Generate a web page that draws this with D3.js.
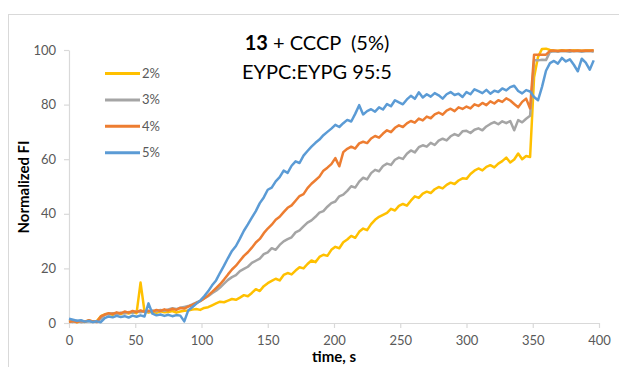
<!DOCTYPE html>
<html>
<head>
<meta charset="utf-8">
<script src="https://cdn.jsdelivr.net/npm/d3@7"></script>
<style>
  body { margin: 0; background: #fff; }
  #chart { width: 619px; height: 367px; }
  text { font-family: Lato, "Open Sans", sans-serif; }
</style>
</head>
<body>
<div id="chart"></div>
<script>
// sampling grid of the traces, seconds
const times = d3.range(0, 397, 3);

const seriesNames = ["2%", "3%", "4%", "5%"];
const xTicks = [0, 50, 100, 150, 200, 250, 300, 350, 400];
const yTicks = [0, 20, 40, 60, 80, 100];

const pct2 = [
  0.5,0.8,0.3,0.6,0.4,0.9,0.5,0.7,2.5,3.2,
  3.4,3.0,3.6,3.3,3.8,3.5,4.0,3.6,14.8,4.2,
  3.8,4.1,3.7,4.3,3.9,4.0,4.4,3.8,4.2,4.5,
  4.6,4.9,5.1,4.8,5.5,5.8,6.5,7.2,7.8,7.6,
  8.2,8.8,8.5,9.3,10.2,9.8,11.0,12.4,11.7,13.5,
  14.6,15.4,16.2,15.6,17.6,18.3,17.8,19.2,20.4,20.0,
  21.6,22.9,22.3,24.2,25.0,24.6,26.8,27.9,27.4,29.6,
  30.6,31.9,31.2,33.4,34.6,34.0,36.2,37.8,38.9,39.6,
  40.3,41.8,41.2,42.9,43.6,43.0,44.8,46.4,45.8,47.4,
  48.1,47.6,49.0,49.8,49.3,50.6,51.4,50.9,52.2,53.0,
  52.8,54.6,55.8,56.6,55.9,57.2,57.8,57.0,58.4,59.3,
  60.6,58.8,59.9,62.1,60.0,61.2,60.8,90.0,97.5,100.4,
  100.5,100.0,99.8,99.7,99.9,99.8,99.7,99.9,99.8,99.7,
  99.8,99.9,99.7
];

const pct3 = [
  0.6,0.4,0.8,0.3,0.5,0.7,0.4,0.6,1.5,3.0,
  3.3,3.6,3.2,3.8,3.5,4.0,3.7,4.2,3.9,4.4,
  4.1,4.6,4.3,4.8,4.5,5.0,5.4,5.1,5.6,5.9,
  6.2,6.8,7.5,8.1,9.0,9.8,10.9,11.8,13.0,14.4,
  15.8,16.8,17.5,19.0,19.8,20.6,22.0,22.8,23.6,25.2,
  25.9,27.4,26.8,28.6,29.9,30.7,31.4,33.2,33.9,35.4,
  36.8,37.6,38.9,40.4,41.0,42.6,43.9,44.5,46.4,47.0,
  48.4,50.1,49.6,51.8,53.2,52.6,54.9,56.1,55.6,57.5,
  58.4,57.9,59.8,60.6,60.1,62.0,63.2,62.5,64.4,65.1,
  64.6,66.0,65.2,66.8,67.5,66.9,68.4,69.2,68.6,70.2,
  70.4,69.6,70.8,71.3,70.6,72.0,72.9,73.6,72.8,73.9,
  73.2,74.0,70.6,74.3,73.5,74.8,75.9,96.3,96.2,96.4,
  96.3,99.3,99.5,99.4,99.6,99.5,99.4,99.6,99.5,99.4,
  99.5,99.6,99.4
];

const pct4 = [
  0.4,0.7,0.3,0.8,0.5,1.0,0.6,0.4,2.4,3.1,
  3.6,3.3,3.9,3.5,4.2,3.8,4.4,4.0,4.6,4.1,
  4.5,4.2,4.8,4.4,5.0,4.6,5.2,4.8,5.5,5.3,
  6.0,6.6,7.3,8.0,9.0,10.1,11.4,12.8,14.2,15.9,
  17.8,19.6,21.0,22.8,24.6,25.9,27.6,29.5,30.8,32.9,
  34.6,36.0,37.8,38.9,40.6,42.2,43.1,44.8,46.5,47.2,
  49.4,51.0,52.3,53.6,55.8,56.9,58.2,60.4,57.4,62.6,
  63.8,64.6,63.9,65.8,66.4,65.9,67.6,68.5,67.9,69.4,
  70.6,69.9,71.5,72.4,71.8,73.1,74.0,73.4,74.9,74.2,
  75.6,75.0,76.4,77.1,76.3,77.8,78.5,77.6,79.0,78.4,
  79.3,78.6,80.1,79.5,80.6,79.8,81.2,80.4,81.6,81.0,
  82.3,81.5,80.2,79.0,81.0,82.2,78.6,98.3,98.3,98.3,
  98.3,99.7,99.8,99.6,99.8,99.7,99.9,99.6,99.8,99.7,
  99.8,99.7,99.9
];

const pct5 = [
  1.6,1.2,0.8,1.0,0.5,0.7,0.4,0.6,0.3,1.8,
  2.4,2.1,2.6,2.2,2.5,2.0,2.7,2.3,2.8,2.4,
  7.2,3.4,2.8,3.1,2.6,3.0,2.5,2.9,2.7,0.6,
  4.6,5.8,7.0,8.2,9.8,11.6,13.8,15.6,18.4,21.0,
  23.8,26.4,28.2,30.9,33.8,36.1,38.6,41.0,43.9,46.0,
  48.8,49.6,51.9,53.4,55.8,55.0,57.6,59.2,58.6,61.3,
  63.0,64.6,66.0,67.2,68.8,70.0,71.2,72.6,71.8,73.2,
  74.4,73.8,76.6,79.8,76.4,77.6,78.3,77.4,79.0,78.2,
  80.2,79.4,81.6,80.8,80.1,81.9,83.2,82.1,84.5,82.6,
  83.8,82.9,84.2,83.4,82.2,83.8,84.6,83.5,84.0,82.8,
  84.6,83.8,85.6,84.9,84.2,85.4,84.0,85.1,84.6,85.9,
  85.2,86.4,86.9,85.0,84.1,85.3,84.8,82.8,81.6,86.5,
  92.4,95.2,96.0,95.0,97.1,95.8,96.6,94.6,92.2,96.8,
  95.4,92.8,96.2
];

const colors = ["#FFC000", "#A5A5A5", "#ED7D31", "#5B9BD5"];

class LineChart {
  constructor(parentElement) {
    this.parentElement = parentElement;
    this.series = [pct2, pct3, pct4, pct5].map((vals, i) => ({
      name: seriesNames[i],
      color: colors[i],
      values: vals.map((v, j) => ({ t: times[j], v: v }))
    }));
    this.initVis();
  }

  initVis() {
    let vis = this;

    vis.svg = d3.select("#" + vis.parentElement)
      .append("svg")
      .attr("width", 619)
      .attr("height", 367);

    // chart area frame
    vis.svg.append("rect")
      .attr("x", 8.5).attr("y", 14.5)
      .attr("width", 700).attr("height", 400)
      .attr("fill", "none")
      .attr("stroke", "#D9D9D9");

    vis.xScale = d3.scaleLinear().domain([0, 400]).range([69, 599]);
    vis.yScale = d3.scaleLinear().domain([0, 100]).range([323, 50]);

    vis.updateVis();
  }

  updateVis() {
    let vis = this;

    let xAxis = vis.svg.append("g")
      .attr("transform", `translate(0,${vis.yScale(0)})`)
      .call(d3.axisBottom(vis.xScale).tickValues(xTicks).tickSize(5).tickSizeOuter(0).tickPadding(8));
    let yAxis = vis.svg.append("g")
      .attr("transform", `translate(${vis.xScale(0)},0)`)
      .call(d3.axisLeft(vis.yScale).tickValues(yTicks).tickSize(5).tickSizeOuter(0).tickPadding(8));

    [xAxis, yAxis].forEach((g) => {
      g.selectAll("path, line").attr("stroke", "#D9D9D9").attr("stroke-width", 1.2);
      g.selectAll("text")
        .attr("fill", "#595959")
        .style("font-size", "13px")
        .style("font-family", "Lato, sans-serif");
    });

    let line = d3.line()
      .x((d) => vis.xScale(d.t))
      .y((d) => vis.yScale(d.v));

    vis.svg.selectAll(".trace")
      .data(vis.series)
      .join("path")
      .attr("class", "trace")
      .attr("d", (d) => line(d.values))
      .attr("fill", "none")
      .attr("stroke", (d) => d.color)
      .attr("stroke-width", 2.5)
      .attr("stroke-linejoin", "round");

    // legend
    let legend = vis.svg.selectAll(".legend")
      .data(vis.series)
      .join("g")
      .attr("class", "legend")
      .attr("transform", (d, i) => `translate(105,${73.5 + i * 26.4})`);
    legend.append("line")
      .attr("x1", 0).attr("x2", 35)
      .attr("stroke", (d) => d.color)
      .attr("stroke-width", 3);
    legend.append("text")
      .attr("x", 37)
      .attr("dy", "0.35em")
      .attr("fill", "#595959")
      .style("font-size", "13px")
      .text((d) => d.name);

    // title
    let t1 = vis.svg.append("text")
      .attr("x", 317).attr("y", 50)
      .attr("text-anchor", "middle")
      .style("font-size", "20px")
      .style("white-space", "pre")
      .attr("fill", "#000");
    t1.append("tspan").attr("font-weight", "bold").text("13");
    t1.append("tspan").text(" + CCCP  (5%)");

    vis.svg.append("text")
      .attr("x", 317).attr("y", 79)
      .attr("text-anchor", "middle")
      .style("font-size", "20px")
      .attr("fill", "#000")
      .text("EYPC:EYPG 95:5");

    // axis titles
    vis.svg.append("text")
      .attr("text-anchor", "middle")
      .attr("x", 334).attr("y", 362)
      .attr("font-weight", "bold")
      .style("font-size", "15px")
      .attr("fill", "#000")
      .text("time, s");

    vis.svg.append("text")
      .attr("text-anchor", "middle")
      .attr("transform", "rotate(-90)")
      .attr("x", -187).attr("y", 29)
      .attr("font-weight", "bold")
      .style("font-size", "15px")
      .attr("fill", "#000")
      .text("Normalized FI");
  }
}

new LineChart("chart");
</script>
</body>
</html>
